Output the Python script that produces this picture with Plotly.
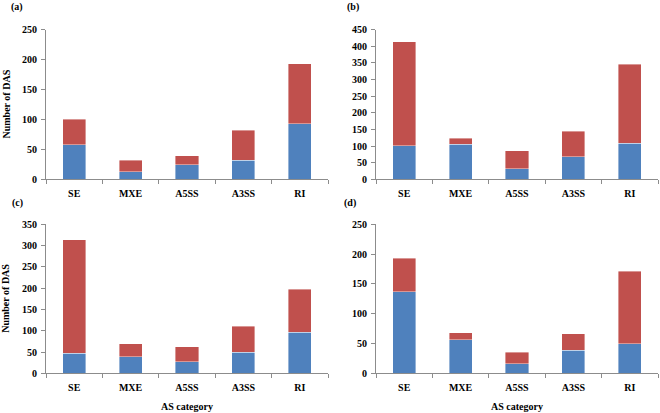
import plotly.graph_objects as go

categories = ["SE", "MXE", "A5SS", "A3SS", "RI"]

# panel (a)
a_blue = [58, 13, 24, 32, 93]
a_total = [100, 32, 39, 82, 193]
# panel (b)
b_blue = [101, 106, 31, 68, 108]
b_total = [414, 124, 86, 144, 346]
# panel (c)
c_blue = [47, 39, 27, 49, 97]
c_total = [314, 70, 62, 111, 197]
# panel (d)
d_blue = [137, 56, 16, 39, 50]
d_total = [193, 68, 35, 66, 171]

y_ranges = [[0, 250], [0, 450], [0, 350], [0, 250]]
y_dticks = [50, 50, 50, 50]
panel_labels = ["(a)", "(b)", "(c)", "(d)"]

BLUE = "#4F81BD"
RED = "#C0504D"
FONT = "Liberation Serif"
W, H = 660, 413

panels = [(a_blue, a_total), (b_blue, b_total), (c_blue, c_total), (d_blue, d_total)]

# pixel boxes in window coords: (x0, x1, ytop, ybottom)
boxes = [(46, 328, 29.7, 179.3), (376, 658, 29.7, 179.3),
         (46, 328, 224.3, 373.3), (376, 658, 224.3, 373.3)]


def px_x(x):
    return x / W


def px_y(y):
    return 1 - y / H


fig = go.Figure()
layout = {}
for i, ((blue, total), box) in enumerate(zip(panels, boxes)):
    red = [t - b for t, b in zip(total, blue)]
    n = "" if i == 0 else str(i + 1)
    xa, ya = "x" + n, "y" + n
    for vals, col in ((blue, BLUE), (red, RED)):
        fig.add_trace(go.Bar(x=categories, y=vals, xaxis=xa, yaxis=ya,
                             marker=dict(color=col, line=dict(color="rgba(255,255,255,0.5)", width=0.8)),
                             width=0.41, showlegend=False))
    x0, x1, yt, yb = box
    layout["xaxis" + n] = dict(domain=[px_x(x0), px_x(x1)], anchor=ya, automargin=False,
                               showline=True, linecolor="#8c8c8c", linewidth=1,
                               ticks="outside", tickson="boundaries", ticklen=4,
                               tickcolor="#8c8c8c", showgrid=False, ticklabelstandoff=5,
                               tickfont=dict(family=FONT, size=10, color="black", weight="bold"))
    layout["yaxis" + n] = dict(domain=[px_y(yb), px_y(yt)], anchor=xa, automargin=False,
                               range=y_ranges[i], dtick=y_dticks[i],
                               showline=True, linecolor="#8c8c8c", linewidth=1,
                               ticks="outside", ticklen=4, tickcolor="#8c8c8c",
                               showgrid=False, zeroline=False, ticklabelstandoff=2,
                               tickfont=dict(family=FONT, size=10, color="black", weight="bold"))

annotations = []
label_pos = [(17, 7), (353, 7), (17, 203), (350, 203)]
for lab, (px, py) in zip(panel_labels, label_pos):
    annotations.append(dict(text=lab, x=px_x(px), y=px_y(py), xref="paper", yref="paper",
                            showarrow=False, xanchor="center", yanchor="middle",
                            font=dict(family=FONT, size=10, color="black", weight="bold")))
# y-axis titles
for cy in (104.5, 298.8):
    annotations.append(dict(text="Number of DAS", x=px_x(6), y=px_y(cy), xref="paper", yref="paper",
                            showarrow=False, textangle=-90, xanchor="center", yanchor="middle",
                            font=dict(family=FONT, size=10, color="black", weight="bold")))
# x-axis titles
for cx in (187, 517):
    annotations.append(dict(text="AS category", x=px_x(cx), y=px_y(406.5), xref="paper", yref="paper",
                            showarrow=False, xanchor="center", yanchor="middle",
                            font=dict(family=FONT, size=10, color="black", weight="bold")))

fig.update_layout(**layout)
fig.update_layout(barmode="stack", width=W, height=H,
                  margin=dict(l=0, r=0, t=0, b=0),
                  paper_bgcolor="white", plot_bgcolor="white",
                  annotations=annotations, bargap=0.59)
fig.write_html("out.html", config={"displayModeBar": False},
               post_script="document.body.style.margin='0';")
